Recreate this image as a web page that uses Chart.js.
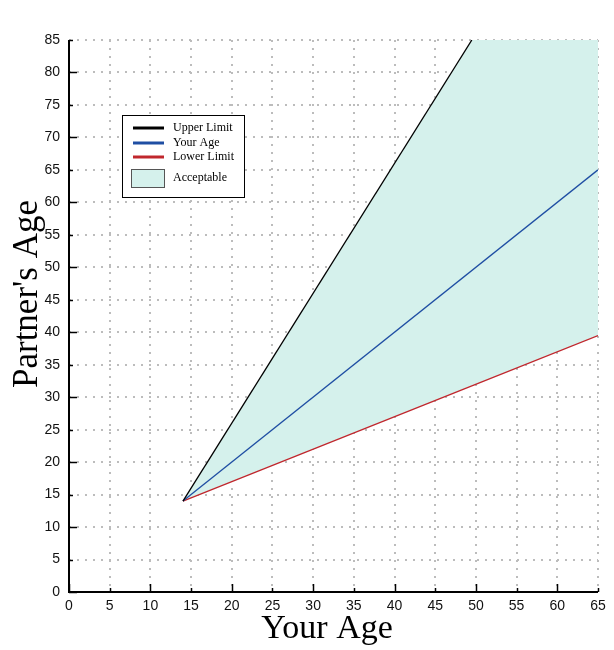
<!DOCTYPE html>
<html><head><meta charset="utf-8">
<script src="https://cdn.jsdelivr.net/npm/chart.js@4/dist/chart.umd.min.js"></script>
<style>html,body{margin:0;padding:0;background:#fff}#wrap{width:614px;height:650px}</style>
</head><body><div id="wrap"><canvas id="c" width="614" height="650"></canvas></div>
<script>
const yTitle = "Partner's Age";
const xTitle = "Your Age";
const seriesNames = ["Upper Limit", "Your Age", "Lower Limit", "Acceptable"];
const upperX = [14, 49.5];
const upperY = [14, 85];
const yourX = [14, 65];
const yourY = [14, 65];
const lowerX = [14, 49.5, 65];
const lowerY = [14, 31.75, 39.5];
const acceptX = [14, 49.5, 65];
const acceptY = [14, 85, 85];
const xMin = 0, xMax = 65, yMin = 0, yMax = 85, tickStep = 5;

const pts = (xs, ys) => xs.map((x, i) => ({x, y: ys[i]}));
const colors = ["#000000", "#1f4ea3", "#c0272d", "#d5f1ec"];
const serif = '"Liberation Serif", "Times New Roman", serif';

const tickPlugin = {
  id: 'inTicks',
  afterDatasetsDraw(chart) {
    const {ctx, scales: {x, y}, chartArea: a} = chart;
    ctx.save();
    ctx.strokeStyle = '#000';
    ctx.lineWidth = 2;
    ctx.beginPath();
    ctx.moveTo(a.left, a.top); ctx.lineTo(a.left, a.bottom); ctx.lineTo(a.right, a.bottom);
    ctx.stroke();
    ctx.lineWidth = 1.5;
    for (let v = xMin; v <= xMax; v += tickStep) {
      const px = Math.round(x.getPixelForValue(v)) + 0.5;
      const len = v % 10 === 0 ? 8 : 4;
      ctx.beginPath(); ctx.moveTo(px, a.bottom); ctx.lineTo(px, a.bottom - len); ctx.stroke();
    }
    for (let v = yMin; v <= yMax; v += tickStep) {
      const py = Math.round(y.getPixelForValue(v)) + 0.5;
      const len = v % 10 === 0 ? 8 : 4;
      ctx.beginPath(); ctx.moveTo(a.left, py); ctx.lineTo(a.left + len, py); ctx.stroke();
    }
    // axis titles
    ctx.fillStyle = '#000';
    ctx.font = '34px ' + serif;
    ctx.textAlign = 'center';
    ctx.textBaseline = 'alphabetic';
    ctx.fillText(xTitle, 327, 638);
    ctx.save();
    ctx.translate(37, 294);
    ctx.rotate(-Math.PI / 2);
    ctx.font = '35px ' + serif;
    ctx.fillText(yTitle, 0, 0);
    ctx.restore();
    // legend
    ctx.textAlign = 'left';
    const lx = 122, ly = 115, lw = 122, lh = 82;
    ctx.fillStyle = '#fff';
    ctx.fillRect(lx, ly, lw, lh);
    ctx.strokeStyle = '#000'; ctx.lineWidth = 1;
    ctx.strokeRect(lx + 0.5, ly + 0.5, lw, lh);
    ctx.font = '12px ' + serif;
    ctx.textBaseline = 'middle';
    const rows = [128, 143, 157];
    for (let i = 0; i < 3; i++) {
      ctx.strokeStyle = colors[i]; ctx.lineWidth = 3;
      ctx.beginPath(); ctx.moveTo(133, rows[i]); ctx.lineTo(164, rows[i]); ctx.stroke();
      ctx.fillStyle = '#000';
      ctx.fillText(seriesNames[i], 173, rows[i]);
    }
    ctx.fillStyle = colors[3];
    ctx.fillRect(131, 169, 33, 18);
    ctx.strokeStyle = '#555'; ctx.lineWidth = 1;
    ctx.strokeRect(131.5, 169.5, 33, 18);
    ctx.fillStyle = '#000';
    ctx.fillText(seriesNames[3], 173, 178);
    ctx.restore();
  }
};

new Chart(document.getElementById('c'), {
  type: 'scatter',
  data: {
    datasets: [
      {label: seriesNames[3], data: pts(acceptX, acceptY), showLine: true, borderWidth: 0, borderColor: 'rgba(0,0,0,0)', backgroundColor: colors[3], fill: '+1', pointRadius: 0, order: 5},
      {label: 'lowerFillRef', data: pts(lowerX, lowerY), showLine: true, borderWidth: 0, borderColor: 'rgba(0,0,0,0)', pointRadius: 0, fill: false, order: 6},
      {label: seriesNames[0], data: pts(upperX, upperY), showLine: true, borderColor: colors[0], borderWidth: 1.3, pointRadius: 0, fill: false, order: 1},
      {label: seriesNames[1], data: pts(yourX, yourY), showLine: true, borderColor: colors[1], borderWidth: 1.3, pointRadius: 0, fill: false, order: 2},
      {label: seriesNames[2], data: pts(lowerX, lowerY), showLine: true, borderColor: colors[2], borderWidth: 1.3, pointRadius: 0, fill: false, order: 3}
    ]
  },
  options: {
    responsive: false,
    animation: false,
    layout: {padding: {top: 40, right: 16, left: 0, bottom: 0}},
    plugins: {legend: {display: false}, tooltip: {enabled: false}},
    scales: {
      x: {
        type: 'linear', min: xMin, max: xMax,
        ticks: {stepSize: tickStep, color: '#111', font: {family: '"Liberation Sans", Arial, sans-serif', size: 14}, padding: 6, maxRotation: 0},
        grid: {color: '#bcbcbc', lineWidth: 2, drawTicks: false, tickLength: 0},
        border: {display: false, dash: [2, 6]},
        afterFit(s) { s.height = 58; }
      },
      y: {
        type: 'linear', min: yMin, max: yMax,
        ticks: {stepSize: tickStep, color: '#111', font: {family: '"Liberation Sans", Arial, sans-serif', size: 14}, padding: 9},
        grid: {color: '#bcbcbc', lineWidth: 2, drawTicks: false, tickLength: 0},
        border: {display: false, dash: [2, 6]},
        afterFit(s) { s.width = 69; }
      }
    }
  },
  plugins: [tickPlugin]
});
</script>
</body></html>
